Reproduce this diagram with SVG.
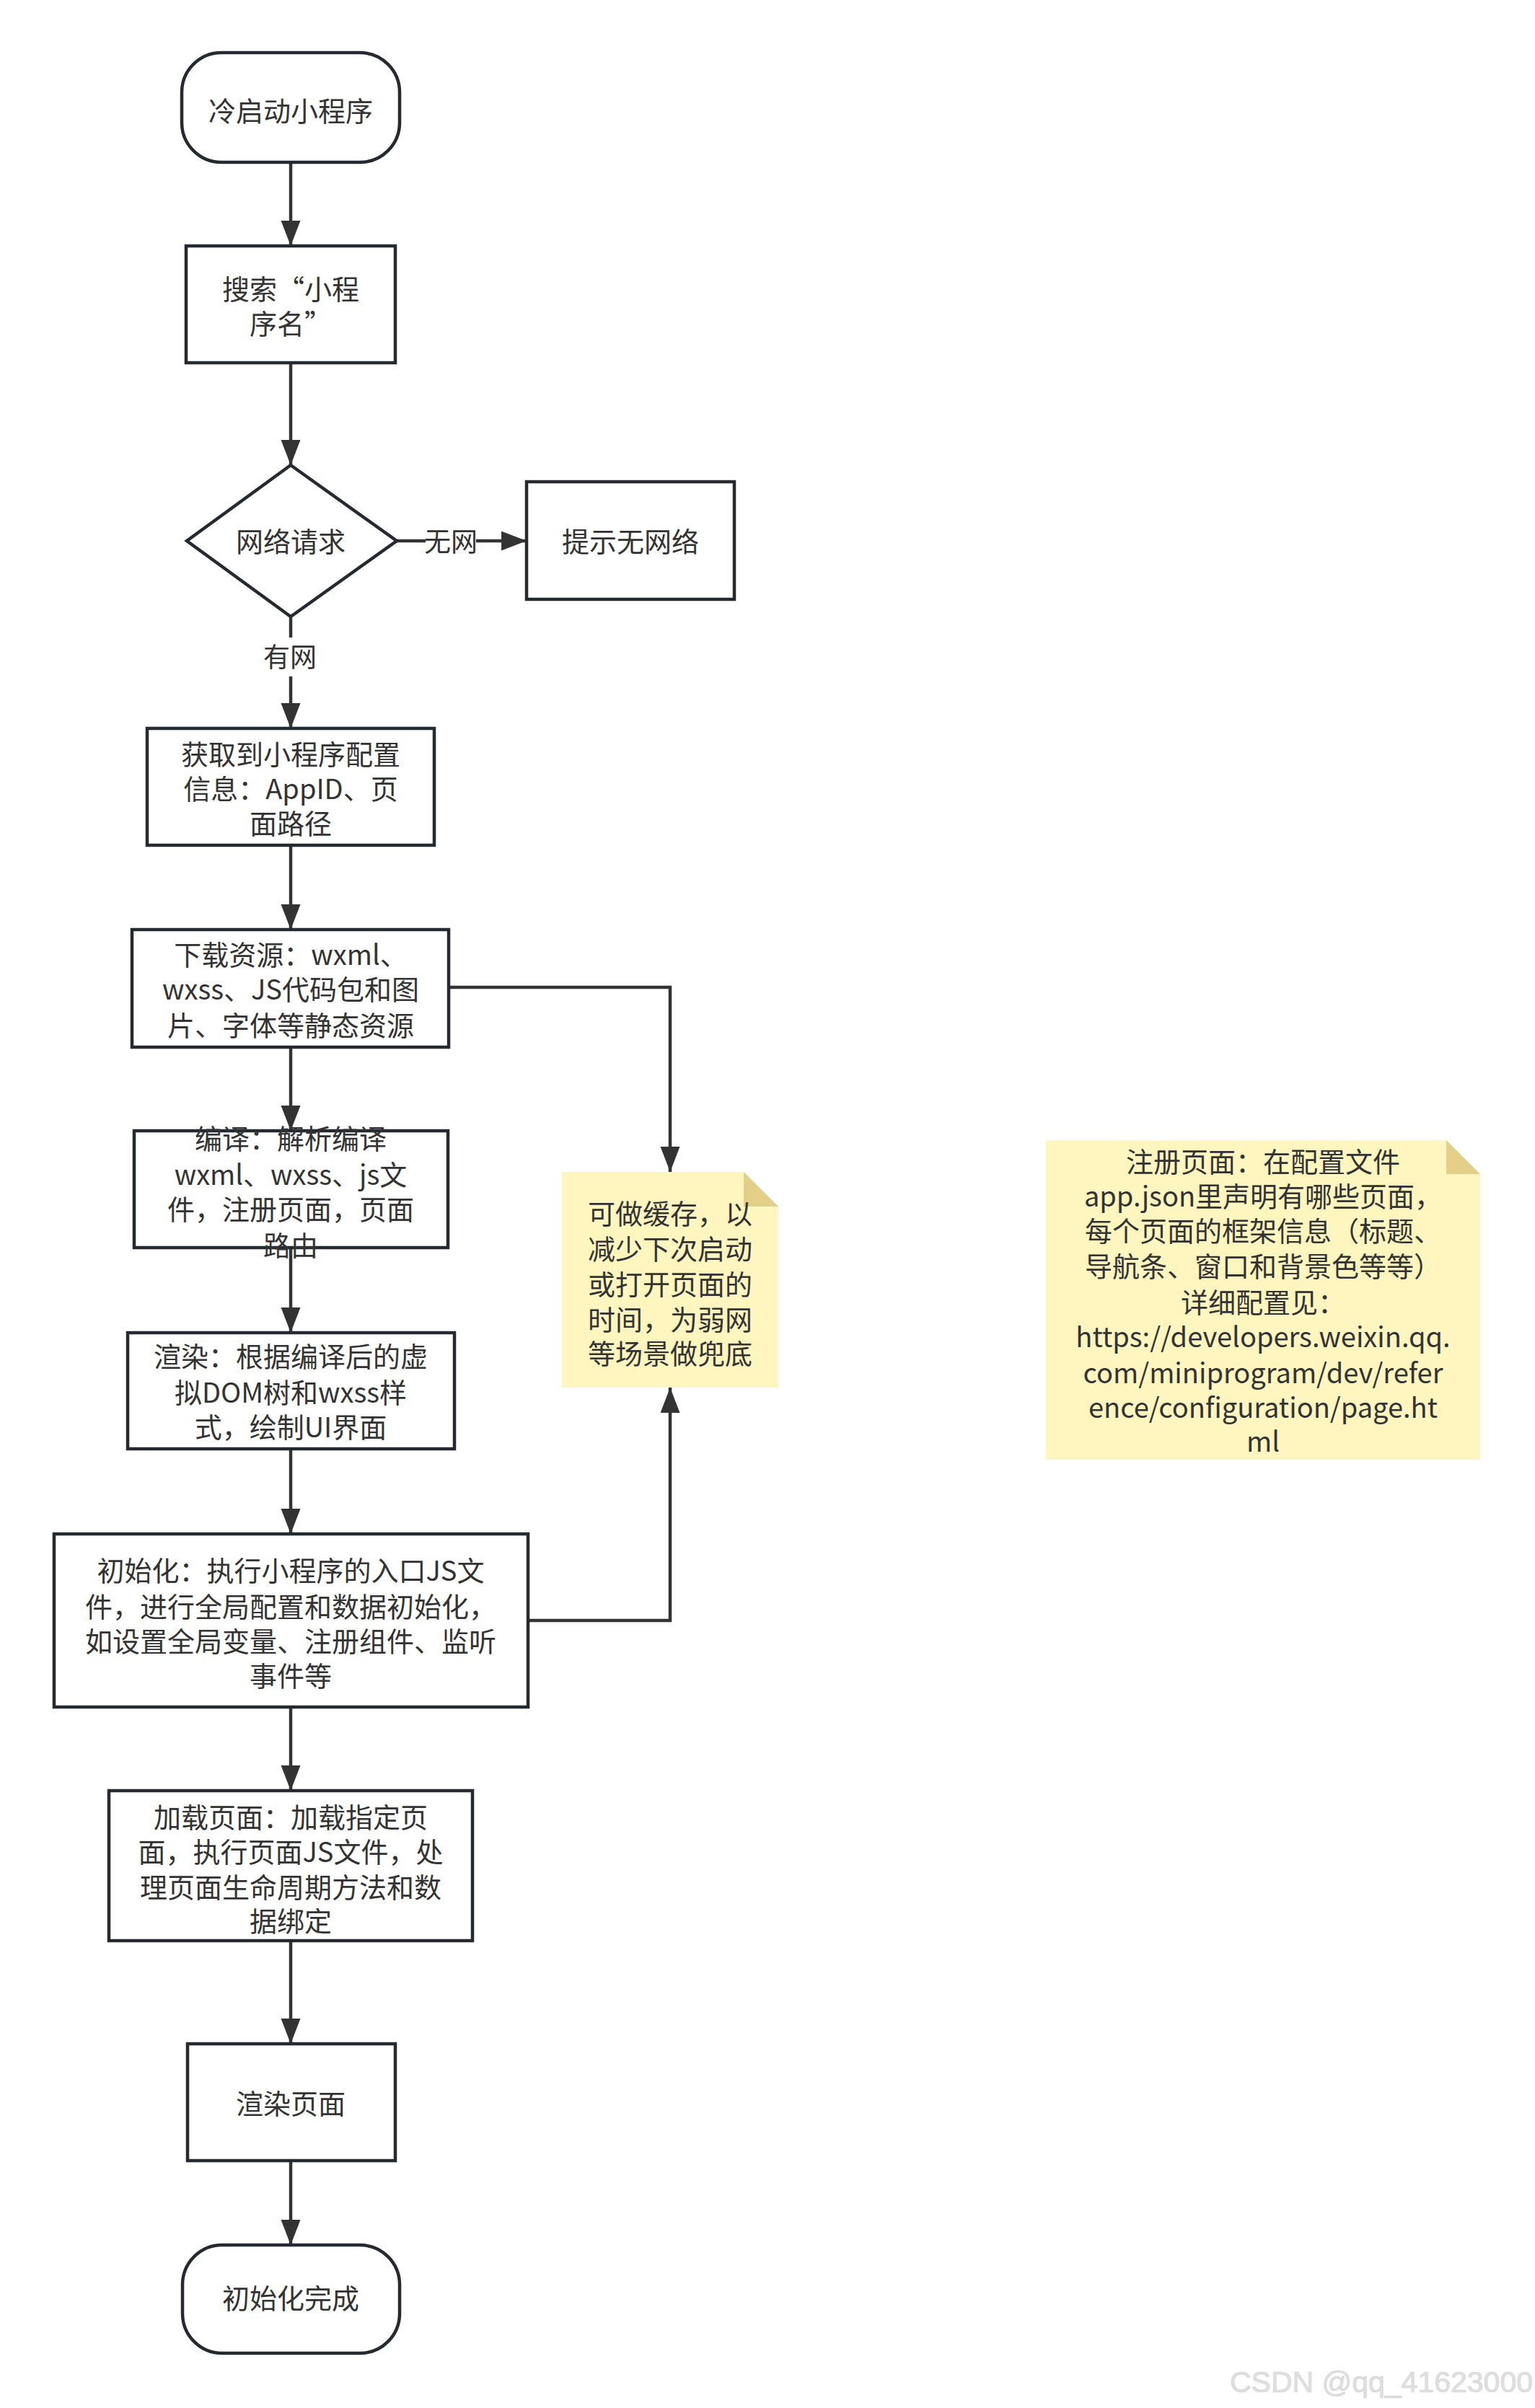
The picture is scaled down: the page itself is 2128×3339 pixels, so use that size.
<svg xmlns="http://www.w3.org/2000/svg" width="2128" height="3339" viewBox="0 0 2128 3339">
<style>
.box{fill:#ffffff;stroke:#242a30;stroke-width:4.5}
.t{font-family:"Noto Sans CJK SC","Noto Sans",sans-serif;font-size:38px;fill:#333333;text-anchor:middle}
.lbl{font-family:"Noto Sans CJK SC","Noto Sans",sans-serif;font-size:37px;fill:#333333;text-anchor:middle}
.con{fill:none;stroke:#333333;stroke-width:4.5}
.note{fill:#fff5bf}
.fold{fill:#e3cf88}
.wm{font-family:"Liberation Sans",Arial,sans-serif;font-size:41px;fill:#e0e0e0;stroke:#d0d0d0;stroke-width:0.6}
</style>
<defs>
<marker id="arr" markerUnits="userSpaceOnUse" markerWidth="36" markerHeight="28" refX="35" refY="13.5" orient="auto">
<path d="M0,0 L35,13.5 L0,27 Z" fill="#333333"/>
</marker>
</defs>
<rect width="2128" height="3339" fill="#ffffff"/>
<g id="connectors">
<line class="con" x1="403" y1="225" x2="403" y2="341" marker-end="url(#arr)"/>
<line class="con" x1="403" y1="503" x2="403" y2="645" marker-end="url(#arr)"/>
<line class="con" x1="550" y1="750" x2="730" y2="750" marker-end="url(#arr)"/>
<line class="con" x1="403" y1="855" x2="403" y2="1010" marker-end="url(#arr)"/>
<line class="con" x1="403" y1="1172" x2="403" y2="1289" marker-end="url(#arr)"/>
<line class="con" x1="403" y1="1452" x2="403" y2="1568" marker-end="url(#arr)"/>
<line class="con" x1="403" y1="1730" x2="403" y2="1848" marker-end="url(#arr)"/>
<line class="con" x1="403" y1="2009" x2="403" y2="2127" marker-end="url(#arr)"/>
<line class="con" x1="403" y1="2367" x2="403" y2="2483" marker-end="url(#arr)"/>
<line class="con" x1="403" y1="2691" x2="403" y2="2834" marker-end="url(#arr)"/>
<line class="con" x1="403" y1="2996" x2="403" y2="3113" marker-end="url(#arr)"/>
<path class="con" d="M622,1369 H929 V1625" marker-end="url(#arr)"/>
<path class="con" d="M732,2247 H929 V1924" marker-end="url(#arr)"/>
<rect x="590" y="728" width="70" height="46" fill="#ffffff"/>
<text class="lbl" x="625" y="765">无网</text>
<rect x="366" y="884" width="72" height="54" fill="#ffffff"/>
<text class="lbl" x="402" y="925">有网</text>
</g>
<g id="start">
<rect class="box" x="252" y="73" width="302" height="152" rx="55" ry="55"/>
<text class="t" x="403" y="168">冷启动小程序</text>
</g>
<g id="search">
<rect class="box" x="258" y="341" width="290" height="162"/>
<text class="t" x="403" y="415">搜索“小程</text>
<text class="t" x="403" y="463">序名”</text>
</g>
<g id="network">
<polygon class="box" points="403,645 550,750 403,855 259,750"/>
<text class="t" x="403" y="765">网络请求</text>
</g>
<g id="nonet">
<rect class="box" x="730" y="668" width="288" height="163"/>
<text class="t" x="874" y="765">提示无网络</text>
</g>
<g id="config">
<rect class="box" x="204" y="1010" width="398" height="162"/>
<text class="t" x="403" y="1060">获取到小程序配置</text>
<text class="t" x="403" y="1108">信息：AppID、页</text>
<text class="t" x="403" y="1156">面路径</text>
</g>
<g id="download">
<rect class="box" x="183" y="1289" width="439" height="163"/>
<text class="t" x="403" y="1338">下载资源：wxml、</text>
<text class="t" x="403" y="1386">wxss、JS代码包和图</text>
<text class="t" x="403" y="1436">片、字体等静态资源</text>
</g>
<g id="compile">
<rect class="box" x="186" y="1568" width="435" height="162"/>
<text class="t" x="403" y="1593">编译：解析编译</text>
<text class="t" x="403" y="1643">wxml、wxss、js文</text>
<text class="t" x="403" y="1691">件，注册页面，页面</text>
<text class="t" x="403" y="1741">路由</text>
</g>
<g id="render">
<rect class="box" x="177" y="1848" width="453" height="161"/>
<text class="t" x="403" y="1895">渲染：根据编译后的虚</text>
<text class="t" x="403" y="1945">拟DOM树和wxss样</text>
<text class="t" x="403" y="1993">式，绘制UI界面</text>
</g>
<g id="init">
<rect class="box" x="75" y="2127" width="657" height="240"/>
<text class="t" x="403" y="2192">初始化：执行小程序的入口JS文</text>
<text class="t" x="403" y="2242">件，进行全局配置和数据初始化，</text>
<text class="t" x="403" y="2290">如设置全局变量、注册组件、监听</text>
<text class="t" x="403" y="2338">事件等</text>
</g>
<g id="loadpage">
<rect class="box" x="151" y="2483" width="504" height="208"/>
<text class="t" x="403" y="2534">加载页面：加载指定页</text>
<text class="t" x="403" y="2582">面，执行页面JS文件，处</text>
<text class="t" x="403" y="2631">理页面生命周期方法和数</text>
<text class="t" x="403" y="2678">据绑定</text>
</g>
<g id="renderpage">
<rect class="box" x="260" y="2834" width="288" height="162"/>
<text class="t" x="403" y="2931">渲染页面</text>
</g>
<g id="end">
<rect class="box" x="253" y="3113" width="301" height="150" rx="55" ry="55"/>
<text class="t" x="403" y="3201">初始化完成</text>
</g>
<g id="note-cache">
<path class="note" d="M779,1625 H1031 L1079,1673 V1924 H779 Z"/>
<path class="fold" d="M1031,1625 L1079,1673 H1031 Z"/>
<text class="t" x="929" y="1697">可做缓存，以</text>
<text class="t" x="929" y="1746">减少下次启动</text>
<text class="t" x="929" y="1795">或打开页面的</text>
<text class="t" x="929" y="1844">时间，为弱网</text>
<text class="t" x="929" y="1891">等场景做兜底</text>
</g>
<g id="note-page">
<path class="note" d="M1450,1581 H2005 L2052,1628 V2024 H1450 Z"/>
<path class="fold" d="M2005,1581 L2052,1628 H2005 Z"/>
<text class="t" x="1751" y="1625">注册页面：在配置文件</text>
<text class="t" x="1751" y="1673">app.json里声明有哪些页面，</text>
<text class="t" x="1751" y="1721">每个页面的框架信息（标题、</text>
<text class="t" x="1751" y="1770">导航条、窗口和背景色等等）</text>
<text class="t" x="1751" y="1820">详细配置见：</text>
<text class="t" x="1751" y="1868">https://developers.weixin.qq.</text>
<text class="t" x="1751" y="1918">com/miniprogram/dev/refer</text>
<text class="t" x="1751" y="1966">ence/configuration/page.ht</text>
<text class="t" x="1751" y="2013">ml</text>
</g>
<text class="wm" x="1705" y="3317">CSDN @qq_41623000</text>
</svg>
